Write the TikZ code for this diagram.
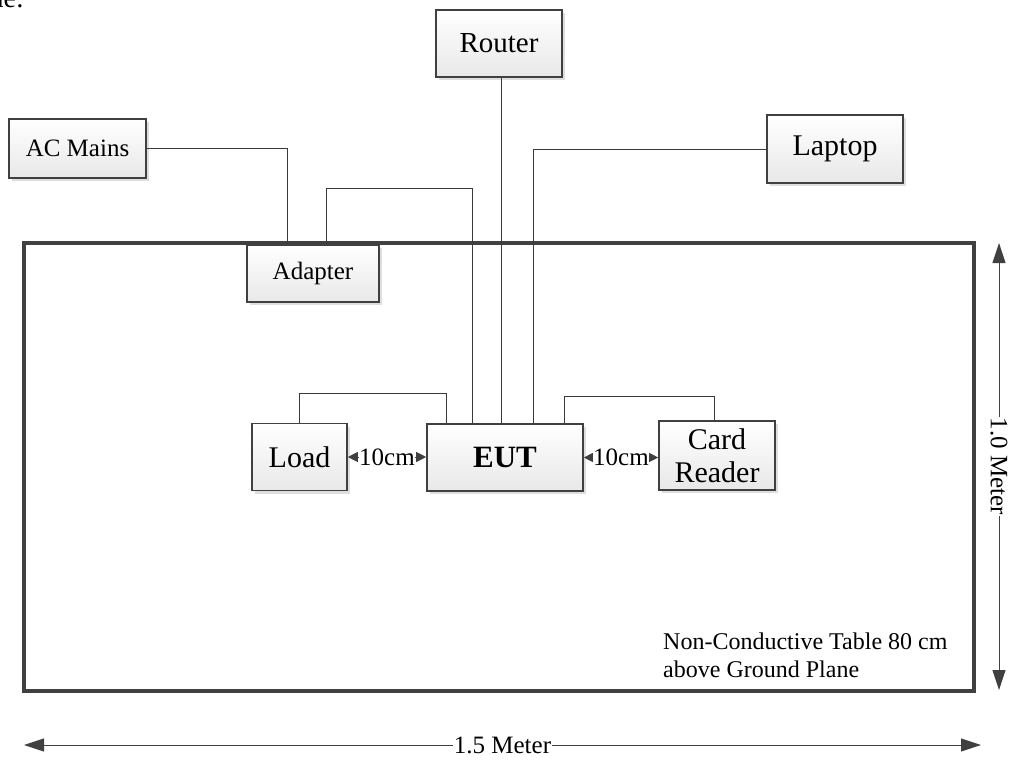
\documentclass[tikz,border=0pt]{standalone}
\usepackage{fontspec}
\setmainfont{Liberation Serif}
\usetikzlibrary{arrows.meta,shadows}
\definecolor{edgec}{HTML}{404040}
\definecolor{wirec}{HTML}{3A3A3A}
\tikzset{
  devbox/.style={draw=edgec, line width=1.6pt, shading=axis, top color=white,
    bottom color=black!9, inner sep=0pt, align=center,
    drop shadow={shadow xshift=3pt, shadow yshift=-3pt, fill=black!13, opacity=1}},
  wire/.style={draw=wirec, line width=0.9pt},
  dimline/.style={draw=edgec, line width=0.9pt,
    {Triangle[length=20pt,width=13pt]}-{Triangle[length=20pt,width=13pt]}},
  gapline/.style={draw=edgec, line width=0.9pt,
    {Triangle[length=10pt,width=10pt]}-{Triangle[length=10pt,width=10pt]}},
  lbl/.style={fill=white, inner sep=1pt},
  fsmall/.style={font=\fontsize{24}{28}\selectfont},
  fmid/.style={font=\fontsize{25}{29}\selectfont},
  fbig/.style={font=\fontsize{30}{33}\selectfont},
}
\begin{document}
\begin{tikzpicture}[x=1pt,y=-1pt]
\useasboundingbox (0,0) rectangle (1016,762);

% fragment of preceding text
\node[anchor=base east, inner sep=0pt, font=\fontsize{28}{32}\selectfont] (frag) at (24,8) {ne:};

% table
\draw[edgec, line width=3.6pt] (24,243) rectangle (974,691);

% devices
\node[devbox, fmid, minimum width=137pt, minimum height=59pt] (ac) at (77.5,148.5) {AC Mains};
\node[devbox, font=\fontsize{29}{33}\selectfont, minimum width=126pt, minimum height=67pt] (router) at (499,43.5) {Router};
\node[devbox, fbig, minimum width=136pt, minimum height=68pt] (laptop) at (835,149) {Laptop};
\node[devbox, fmid, minimum width=132pt, minimum height=57pt] (adapter) at (313,273.5) {Adapter};
\node[devbox, fbig, minimum width=95pt, minimum height=67pt] (load) at (299.5,457) {Load};
\node[devbox, minimum width=156pt, minimum height=67pt, font=\fontsize{31}{34}\selectfont\bfseries] (eut) at (505,457.5) {EUT};
\node[devbox, fbig, minimum width=116pt, minimum height=69pt] (card) at (717,455.5) {Card\\Reader};

% wires
\draw[wire] (ac.east) -| ([xshift=-26pt]adapter.north);
\draw[wire] ([xshift=13pt]adapter.north) -- ++(0,-56) -| ([xshift=-33pt]eut.north);
\draw[wire] ([xshift=2pt]router.south) -- ([xshift=-4pt]eut.north);
\draw[wire] (laptop.west) -| ([xshift=28pt]eut.north);
\draw[wire] (load.north) -- ++(0,-29) -| ([xshift=-59pt]eut.north);
\draw[wire] ([xshift=59pt]eut.north) -- ++(0,-27) -| ([xshift=-3pt]card.north);

% 10 cm gaps
\draw[gapline] (load.east) -- node[lbl, inner sep=0.5pt, fmid] (gapa) {10cm} (load.east -| eut.west);
\draw[gapline] (eut.east) -- node[lbl, inner sep=0.5pt, fmid] (gapb) {10cm} (eut.east -| card.west);

% dimensions
\coordinate (hl) at (24,745);
\coordinate (hr) at (981,745);
\draw[dimline] (hl) -- node[lbl, fmid] (wlab) {1.5 Meter} (hr);
\coordinate (vt) at (999,243);
\coordinate (vb) at (999,690);
\draw[dimline] (vt) -- node[lbl, fmid, rotate=-90] (hlab) {1.0 Meter} (vb);

% note
\node[anchor=base west, align=left, inner sep=0pt, fsmall] (note) at (663,677)
  {Non-Conductive Table 80 cm\\above Ground Plane};
\end{tikzpicture}
\end{document}
